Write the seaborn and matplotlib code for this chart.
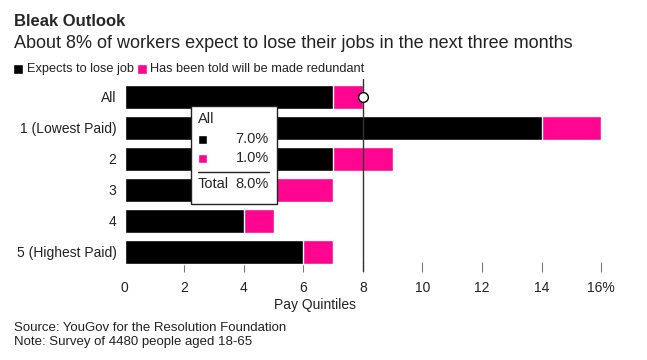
import pandas as pd
import matplotlib.pyplot as plt
import seaborn as sns
from matplotlib.patches import Rectangle

# Data
groups = ['All', '1 (Lowest Paid)', '2', '3', '4', '5 (Highest Paid)']
expects_to_lose = [7, 14, 7, 5, 4, 6]
told_redundant = [1, 2, 2, 2, 1, 1]
x_ticks = [0, 2, 4, 6, 8, 10, 12, 14, 16]
x_tick_labels = ['0', '2', '4', '6', '8', '10', '12', '14', '16%']

BLACK = '#000000'
PINK = '#ff0590'

df = pd.DataFrame({'group': groups,
                   'expects': expects_to_lose,
                   'told': told_redundant})
df['total'] = df['expects'] + df['told']

sns.set_style('white')
plt.rcParams['font.family'] = ['Liberation Sans', 'DejaVu Sans']

fig = plt.figure(figsize=(6.47, 3.6), dpi=100)
ax = fig.add_axes([0.193, 0.257, 0.736, 0.517])

# stacked bars: total in pink, black on top
sns.barplot(data=df, y='group', x='total', color=PINK, orient='h',
            width=0.78, ax=ax, saturation=1)
sns.barplot(data=df, y='group', x='expects', color=BLACK, orient='h',
            width=0.78, ax=ax, saturation=1)

ax.set_xlim(0, 16)
ax.set_ylim(5.5, -0.5)
ax.set_xticks(x_ticks)
ax.set_xticklabels(x_tick_labels, fontsize=10, color='#222')
ax.tick_params(axis='x', bottom=True, length=7, width=0.8, color='#777777', pad=6,
               direction='inout')
ax.tick_params(axis='y', left=False, length=0, labelsize=10, labelcolor='#222', pad=6)
# no tick mark at zero
ax.xaxis.get_major_ticks()[0].tick1line.set_visible(False)
ax.set_ylabel('')
ax.set_xlabel('')
for s in ax.spines.values():
    s.set_visible(False)

# marker line at 8%
ax.axvline(8, color='#333333', lw=1, ymin=-0.02, ymax=1.01, clip_on=False)
ax.plot([8], [0], marker='o', ms=7, mfc='white', mec='black', mew=1, zorder=5)

# tooltip box
tip = Rectangle((191 / 647, 1 - 204 / 360), 86 / 647, 98 / 360,
                transform=fig.transFigure, facecolor='white',
                edgecolor='#222222', lw=1, zorder=10)
fig.patches.append(tip)
fig.text(198 / 647, 1 - 119 / 360, 'All', fontsize=10.5, va='center', zorder=11)
fig.patches.append(Rectangle((198 / 647, 1 - 144 / 360), 9 / 647, 9 / 360,
                             transform=fig.transFigure, facecolor=BLACK, zorder=11))
fig.patches.append(Rectangle((198 / 647, 1 - 163 / 360), 9 / 647, 9 / 360,
                             transform=fig.transFigure, facecolor=PINK, zorder=11))
fig.text(269 / 647, 1 - 139 / 360, '7.0%', fontsize=10.5, ha='right', va='center', zorder=11)
fig.text(269 / 647, 1 - 158 / 360, '1.0%', fontsize=10.5, ha='right', va='center', zorder=11)
fig.add_artist(plt.Line2D([198 / 647, 269 / 647], [1 - 172 / 360, 1 - 172 / 360],
                          transform=fig.transFigure, color='#222222', lw=1, zorder=11))
fig.text(198 / 647, 1 - 184 / 360, 'Total', fontsize=10.5, va='center', zorder=11)
fig.text(269 / 647, 1 - 184 / 360, '8.0%', fontsize=10.5, ha='right', va='center', zorder=11)

# titles and legend
fig.text(14 / 647, 1 - 21 / 360, 'Bleak Outlook', fontsize=12, fontweight='bold', va='center')
fig.text(14 / 647, 1 - 44 / 360, 'About 8% of workers expect to lose their jobs in the next three months',
         fontsize=13, va='center', color='#222')
fig.patches.append(Rectangle((13 / 647, 1 - 74 / 360), 10 / 647, 10 / 360,
                             transform=fig.transFigure, facecolor=BLACK))
fig.text(27 / 647, 1 - 69 / 360, 'Expects to lose job', fontsize=9.2, va='center', color='#222')
fig.patches.append(Rectangle((137 / 647, 1 - 74 / 360), 10 / 647, 10 / 360,
                             transform=fig.transFigure, facecolor=PINK))
fig.text(150 / 647, 1 - 69 / 360, 'Has been told will be made redundant', fontsize=9.2,
         va='center', color='#222')

fig.text(315 / 647, 1 - 305 / 360, 'Pay Quintiles', fontsize=10, ha='center', va='center', color='#222')
fig.text(14 / 647, 1 - 328 / 360, 'Source: YouGov for the Resolution Foundation',
         fontsize=9.5, va='center', color='#222')
fig.text(14 / 647, 1 - 342 / 360, 'Note: Survey of 4480 people aged 18-65',
         fontsize=9.5, va='center', color='#222')

fig.savefig('out.png', dpi=100)
